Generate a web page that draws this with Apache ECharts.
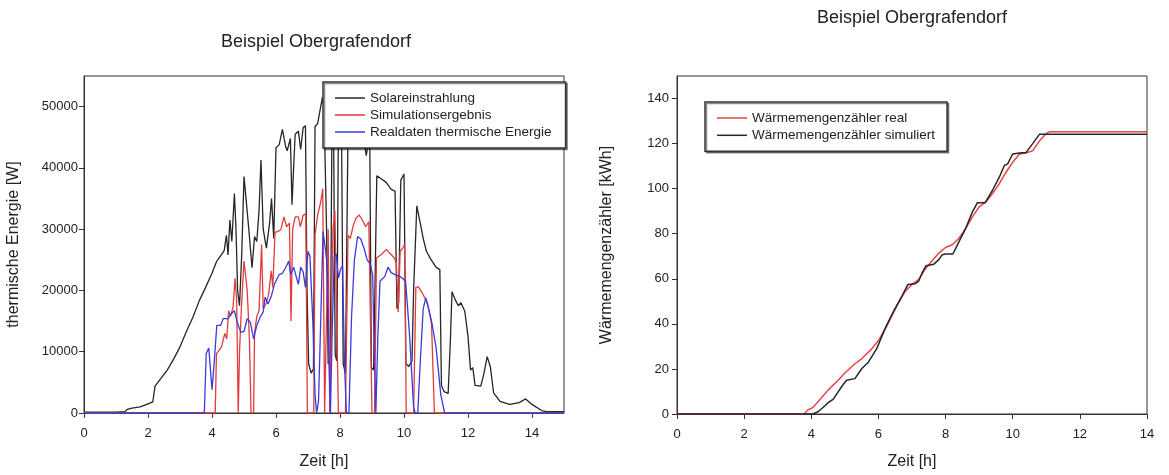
<!DOCTYPE html>
<html>
<head>
<meta charset="utf-8">
<title>Beispiel Obergrafendorf</title>
<script src="https://cdn.jsdelivr.net/npm/echarts@6/dist/echarts.min.js"></script>
<style>
  html, body { margin: 0; padding: 0; background: #fff; }
  #chart { width: 1169px; height: 475px; }
</style>
</head>
<body>
<div id="chart"></div>
<script>
// ---- Left panel: thermal power over the day, [time h, power W] ----
const solarIrradiation = [
  [0,150],[0.5,150],[1.0,150],[1.28,200],[1.35,600],[1.5,800],[1.75,1000],[2.0,1500],[2.15,1800],[2.22,4400],
  [2.4,5600],[2.6,7000],[2.8,8800],[3.0,10800],[3.2,13300],[3.4,15600],[3.6,18300],[3.8,20500],[4.0,22800],
  [4.15,24800],[4.3,25900],[4.38,26500],[4.45,29000],[4.5,25800],[4.56,31500],[4.62,28000],[4.7,35800],
  [4.75,30000],[4.8,20000],[4.86,17500],[4.93,26000],[5.0,38600],[5.08,34000],[5.15,30000],[5.25,23700],
  [5.33,28800],[5.4,28000],[5.47,33000],[5.53,41300],[5.6,30000],[5.7,26900],[5.8,31000],[5.86,35000],
  [5.93,28500],[6.0,43300],[6.1,43800],[6.2,46300],[6.3,43500],[6.35,42800],[6.45,44800],[6.5,34000],
  [6.55,40000],[6.6,45500],[6.7,46000],[6.77,43000],[6.85,46600],[6.92,46900],[6.97,20000],[7.02,8000],
  [7.1,6500],[7.17,7200],[7.22,46800],[7.3,47200],[7.38,49500],[7.45,51500],[7.5,50000],[7.58,30000],
  [7.63,8000],[7.7,9000],[7.75,48000],[7.8,46000],[7.85,9500],[7.9,8500],[7.95,47000],[8.05,45000],
  [8.1,8000],[8.17,6500],[8.25,46000],[8.4,48000],[8.6,47000],[8.75,44500],[8.82,42000],[8.88,44000],
  [8.93,44500],[8.98,7500],[9.05,7000],[9.15,38700],[9.3,38200],[9.45,37600],[9.6,36500],[9.72,36200],
  [9.78,17000],[9.83,18000],[9.9,38000],[10.0,39000],[10.06,8000],[10.15,7600],[10.25,8500],[10.3,20000],
  [10.4,33800],[10.5,31200],[10.6,28500],[10.7,26400],[10.85,25000],[11.0,23800],[11.12,23400],[11.17,4500],
  [11.25,3500],[11.38,3200],[11.45,12000],[11.5,19800],[11.6,18500],[11.7,17500],[11.78,18000],[11.9,16600],
  [12.0,12500],[12.08,7000],[12.15,7400],[12.22,4500],[12.4,4400],[12.5,6500],[12.6,9200],[12.7,7500],
  [12.8,3300],[13.0,1900],[13.3,1400],[13.6,1700],[13.8,2300],[14.0,1400],[14.3,400],[14.5,200],[15,200]
];

const simulationResult = [
  [0,0],[4.1,0],[4.14,9700],[4.3,10800],[4.4,13000],[4.46,12100],[4.52,16700],[4.58,15800],[4.66,17300],
  [4.72,22000],[4.77,18500],[4.82,0],[4.86,10000],[4.92,17300],[5.0,24800],[5.1,20000],[5.17,12000],
  [5.22,0],[5.3,0],[5.33,13000],[5.4,15800],[5.47,16700],[5.55,27500],[5.6,17000],[5.7,18000],[5.77,19400],
  [5.85,23200],[5.9,20500],[5.97,29500],[6.05,29600],[6.15,29900],[6.25,32000],[6.33,30400],[6.42,31000],
  [6.47,15000],[6.52,30000],[6.6,32000],[6.7,32000],[6.76,30400],[6.85,32300],[6.93,32500],[6.98,0],
  [7.18,0],[7.22,29100],[7.3,32300],[7.4,34500],[7.46,36600],[7.52,0],[7.58,0],[7.63,30000],[7.68,0],
  [7.74,0],[7.78,30000],[7.84,33000],[7.9,33000],[7.95,0],[8.17,0],[8.25,29000],[8.32,28500],[8.42,30700],
  [8.5,31800],[8.6,32300],[8.7,31500],[8.8,30400],[8.9,31200],[8.96,31000],[9.0,0],[9.08,0],[9.14,25300],
  [9.3,25900],[9.45,26700],[9.55,26100],[9.7,25300],[9.76,24500],[9.82,16500],[9.88,26400],[9.97,27000],
  [10.02,27500],[10.07,0],[10.3,0],[10.37,20500],[10.45,20600],[10.55,19800],[10.7,18300],[10.77,17000],
  [10.86,14600],[10.95,0],[15,0]
];

const measuredThermal = [
  [0,0],[3.76,0],[3.82,9700],[3.9,10600],[4.0,3800],[4.06,7600],[4.15,14300],[4.27,14300],[4.35,15400],
  [4.5,15400],[4.6,16200],[4.7,16700],[4.8,14600],[4.9,13200],[5.0,13300],[5.1,15400],[5.2,14800],
  [5.3,12100],[5.4,14300],[5.5,15600],[5.6,16500],[5.66,18900],[5.75,17800],[5.85,19000],[5.95,21000],
  [6.1,22600],[6.2,22800],[6.3,23700],[6.4,24800],[6.46,22600],[6.55,23800],[6.6,23700],[6.7,21000],
  [6.77,23800],[6.85,23000],[6.92,20500],[7.0,26400],[7.06,25600],[7.15,15000],[7.22,3000],[7.27,0],
  [7.33,2000],[7.4,15600],[7.47,29600],[7.55,26500],[7.6,24000],[7.66,8000],[7.7,0],[7.76,14000],
  [7.82,25500],[7.88,26000],[7.95,22000],[8.02,23500],[8.08,24000],[8.14,8000],[8.2,0],[8.28,0],
  [8.36,15600],[8.45,25000],[8.55,28800],[8.65,28400],[8.75,26900],[8.85,25000],[8.95,24300],[9.02,22500],
  [9.08,8000],[9.12,0],[9.18,12000],[9.25,21500],[9.4,22300],[9.5,23800],[9.6,22900],[9.75,22500],
  [9.9,22200],[10.05,21500],[10.17,13000],[10.3,1000],[10.35,0],[10.43,0],[10.5,7500],[10.6,17000],
  [10.68,18800],[10.75,17500],[10.86,15000],[11.0,10800],[11.15,3000],[11.27,0],[15,0]
];

// ---- Right panel: cumulative heat meter, [time h, energy kWh] ----
const meterReal = [
  [0,0],[3.78,0],[3.9,1.8],[4.05,2.9],[4.2,5.4],[4.5,10.6],[4.8,15],[5.0,18.2],[5.3,22.3],[5.5,24.5],
  [5.8,28.9],[6.0,32.6],[6.2,37.7],[6.4,43.5],[6.6,49.4],[6.8,54.5],[7.0,57.5],[7.2,59.7],[7.4,64.5],
  [7.6,68],[7.8,71.4],[8.0,73.9],[8.2,75.1],[8.4,78],[8.6,82.4],[8.8,87.5],[9.0,91.9],[9.2,94.1],
  [9.4,97.8],[9.6,102.2],[9.8,107.3],[10.0,111.7],[10.2,115.4],[10.4,115.8],[10.6,116.9],[10.8,121.3],
  [11.0,124.5],[11.1,125.3],[14,125.3]
];

const meterSimulated = [
  [0,0],[4.05,0],[4.2,1],[4.35,2.9],[4.5,5],[4.65,6.5],[4.8,9.8],[4.95,13.1],[5.05,15],[5.3,15.7],
  [5.5,20.1],[5.7,23],[5.95,29],[6.2,38],[6.45,45.6],[6.7,52.3],[6.88,57.5],[7.1,57.8],[7.2,59],
  [7.3,62.6],[7.42,65.8],[7.65,66.5],[7.8,68.5],[7.9,70.7],[8.0,71],[8.22,71],[8.4,76.5],[8.6,82.4],
  [8.8,89.7],[8.95,93.8],[9.18,93.8],[9.4,99.3],[9.6,105.1],[9.75,110.3],[9.85,111],[10.0,115.4],
  [10.2,115.8],[10.4,116.1],[10.6,120.1],[10.8,124.2],[14,124.2]
];

// ---- Tick values ----
const leftTimeTicks = [0, 2, 4, 6, 8, 10, 12, 14];
const leftPowerTicks = [0, 10000, 20000, 30000, 40000, 50000];
const rightTimeTicks = [0, 2, 4, 6, 8, 10, 12, 14];
const rightEnergyTicks = [0, 20, 40, 60, 80, 100, 120, 140];

const FONT = '"Liberation Sans", Arial, sans-serif';
const INK = '#222';
const FRAME = '#333';

function valueAxis(gridIndex, min, max, ticks, name, nameGap, labelMargin) {
  return {
    type: 'value', gridIndex, min, max,
    name, nameLocation: 'middle', nameGap,
    nameTextStyle: { fontFamily: FONT, fontSize: 16, color: INK },
    splitLine: { show: false },
    axisLine: { show: true, onZero: false, lineStyle: { color: FRAME, width: 1 } },
    axisTick: { show: true, inside: false, length: 5, customValues: ticks, lineStyle: { color: FRAME } },
    axisLabel: {
      customValues: ticks, margin: labelMargin,
      fontFamily: FONT, fontSize: 13, color: INK,
      formatter: (v) => String(v)   // plain numbers, no thousands separator
    }
  };
}

function lineSeries(name, data, color, width, xi, yi, z) {
  return {
    name, type: 'line', data, xAxisIndex: xi, yAxisIndex: yi,
    symbol: 'none', smooth: false, z,
    lineStyle: { color, width }, itemStyle: { color },
    emphasis: { disabled: true }, animation: false
  };
}

// Legend keys are short line segments
const legendCommon = {
  orient: 'vertical', icon: 'rect', itemWidth: 30, itemHeight: 1.5,
  backgroundColor: '#fff', borderColor: FRAME, borderWidth: 1.5, borderRadius: 0,
  shadowColor: 'rgba(0,0,0,0.45)', shadowOffsetX: 1.5, shadowOffsetY: 1.5, shadowBlur: 0,
  textStyle: { fontFamily: FONT, fontSize: 13.5, color: INK, lineHeight: 14 },
  selectedMode: false, z: 10
};

const chart = echarts.init(document.getElementById('chart'), null, { renderer: 'canvas' });
chart.setOption({
  backgroundColor: '#fff',
  animation: false,
  grid: [
    { left: 84, top: 76, width: 480, height: 341, show: true, borderColor: FRAME, borderWidth: 1, backgroundColor: 'transparent' },
    { left: 677, top: 76, width: 470, height: 340, show: true, borderColor: FRAME, borderWidth: 1, backgroundColor: 'transparent' }
  ],
  xAxis: [
    valueAxis(0, 0, 15, leftTimeTicks, 'Zeit [h]', 41, 14),
    valueAxis(1, 0, 14, rightTimeTicks, 'Zeit [h]', 40, 14)
  ],
  yAxis: [
    valueAxis(0, 0, 55000, leftPowerTicks, 'thermische Energie [W]', 62, 6),
    valueAxis(1, 0, 150, rightEnergyTicks, 'Wärmemengenzähler [kWh]', 62, 8)
  ],
  legend: [
    Object.assign({}, legendCommon, {
      left: 323, top: 82, padding: [9, 14, 9, 12], itemGap: 3,
      data: ['Solareinstrahlung', 'Simulationsergebnis', 'Realdaten thermische Energie']
    }),
    Object.assign({}, legendCommon, {
      left: 705, top: 102, padding: [9, 12, 9, 12], itemGap: 3.3,
      data: ['Wärmemengenzähler real', 'Wärmemengenzähler simuliert']
    })
  ],
  graphic: [
    { type: 'text', x: 316, y: 42, z: 20,
      style: { text: 'Beispiel Obergrafendorf', fontFamily: FONT, fontSize: 18, fill: INK, align: 'center', verticalAlign: 'middle' } },
    { type: 'text', x: 912, y: 18, z: 20,
      style: { text: 'Beispiel Obergrafendorf', fontFamily: FONT, fontSize: 18, fill: INK, align: 'center', verticalAlign: 'middle' } }
  ],
  series: [
    lineSeries('Solareinstrahlung', solarIrradiation, '#262626', 1.3, 0, 0, 2),
    lineSeries('Simulationsergebnis', simulationResult, '#e23b3b', 1.3, 0, 0, 3),
    lineSeries('Realdaten thermische Energie', measuredThermal, '#3a3ae0', 1.3, 0, 0, 4),
    lineSeries('Wärmemengenzähler real', meterReal, '#e84545', 1.5, 1, 1, 3),
    lineSeries('Wärmemengenzähler simuliert', meterSimulated, '#262626', 1.5, 1, 1, 4)
  ]
});
</script>
</body>
</html>
